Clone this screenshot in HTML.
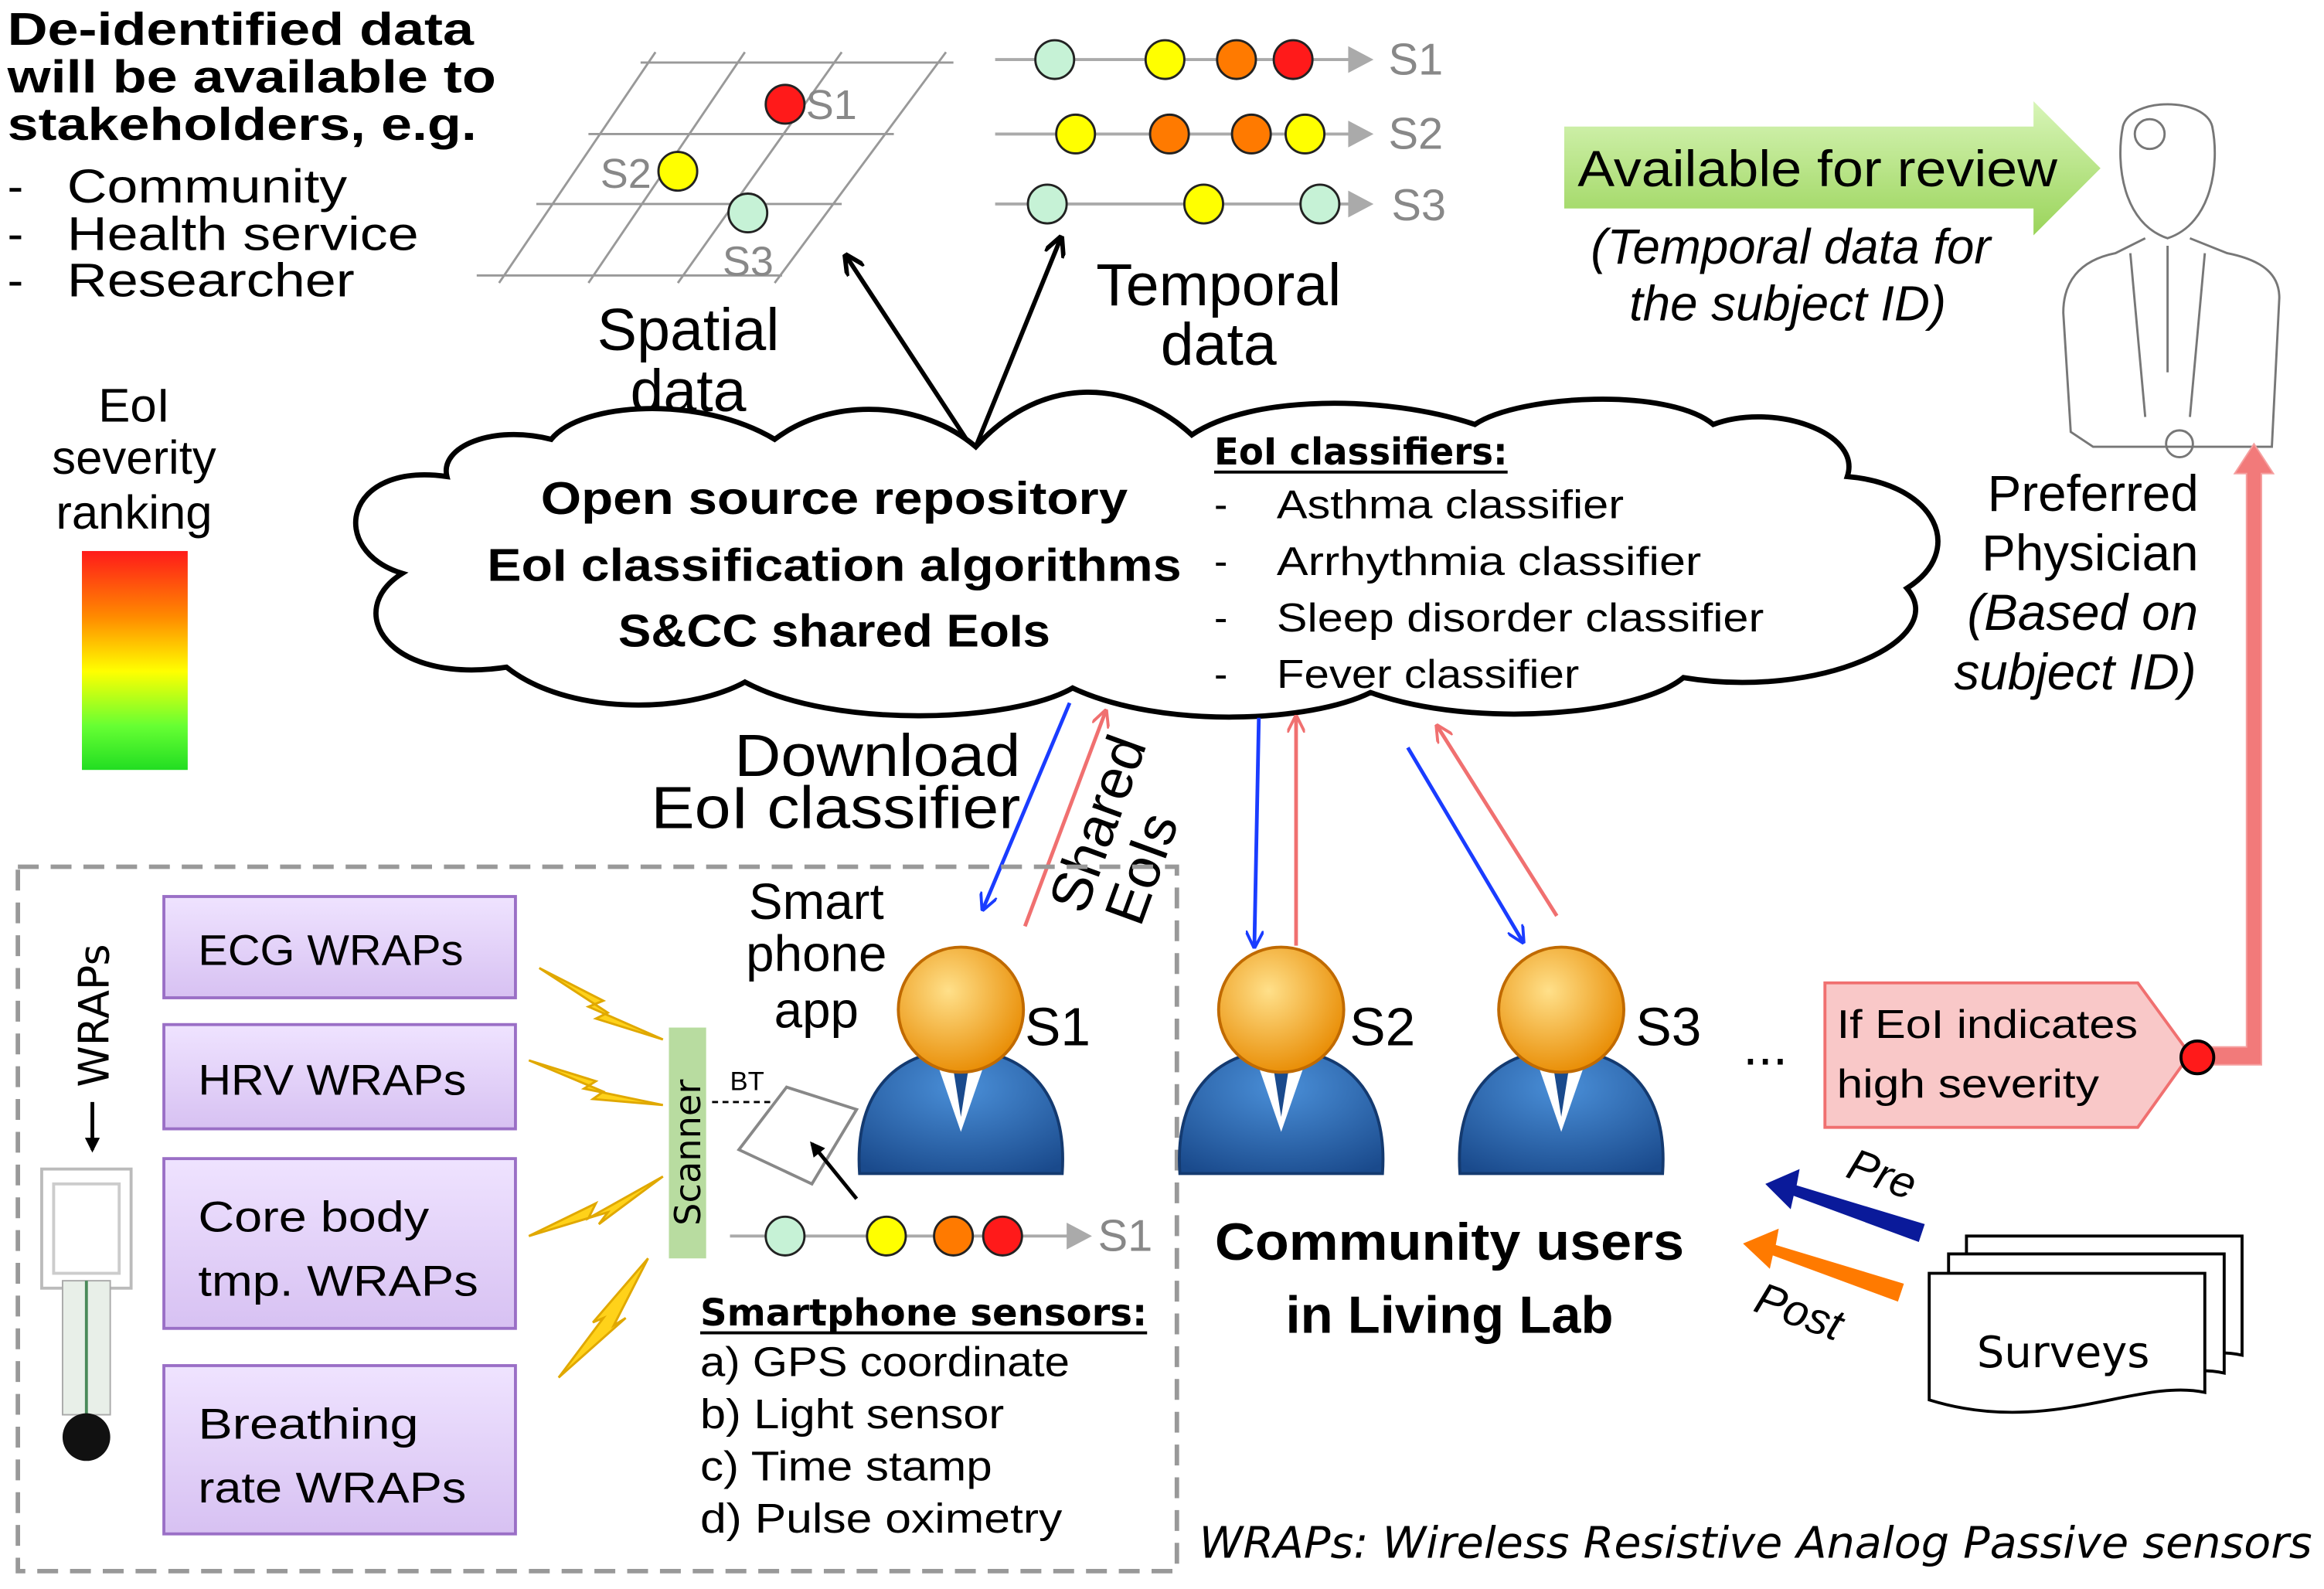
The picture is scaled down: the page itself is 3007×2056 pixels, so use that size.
<!DOCTYPE html>
<html><head><meta charset="utf-8"><style>
html,body{margin:0;padding:0;background:#fff;width:3007px;height:2056px;overflow:hidden}
svg{display:block}
text{font-family:"Liberation Sans",sans-serif}
.c{font-family:"DejaVu Sans","Liberation Sans",sans-serif}
</style></head><body>
<svg width="3007" height="2056" viewBox="0 0 1560 1067" preserveAspectRatio="none" xmlns="http://www.w3.org/2000/svg">
<defs>
<linearGradient id="sev" x1="0" y1="0" x2="0" y2="1">
<stop offset="0" stop-color="#ff1a1a"/><stop offset="0.3" stop-color="#ff8a00"/><stop offset="0.55" stop-color="#ffff00"/><stop offset="0.8" stop-color="#66ff33"/><stop offset="1" stop-color="#22dd22"/></linearGradient>
<linearGradient id="pur" x1="0" y1="0" x2="0" y2="1"><stop offset="0" stop-color="#efe3ff"/><stop offset="1" stop-color="#d7c1f2"/></linearGradient>
<linearGradient id="grn" x1="0" y1="0" x2="0" y2="1"><stop offset="0" stop-color="#d8f5b8"/><stop offset="1" stop-color="#9ad45a"/></linearGradient>
<radialGradient id="head" cx="0.4" cy="0.35" r="0.7"><stop offset="0" stop-color="#ffe08a"/><stop offset="1" stop-color="#e88a00"/></radialGradient>
<radialGradient id="body" cx="0.5" cy="0.3" r="0.8"><stop offset="0" stop-color="#4a8fd8"/><stop offset="1" stop-color="#1a4a8c"/></radialGradient>
<marker id="ab" markerWidth="10" markerHeight="10" refX="8" refY="5" orient="auto" markerUnits="userSpaceOnUse"><path d="M0,0 L10,5 L0,10 Z" fill="#000"/></marker>
<marker id="abl" markerWidth="12" markerHeight="12" refX="10" refY="6" orient="auto" markerUnits="userSpaceOnUse"><path d="M0,0 L12,6 L0,12" fill="none" stroke="#1a3cff" stroke-width="2"/></marker>
<marker id="ar" markerWidth="12" markerHeight="12" refX="10" refY="6" orient="auto" markerUnits="userSpaceOnUse"><path d="M0,0 L12,6 L0,12" fill="none" stroke="#f07070" stroke-width="2"/></marker>
<marker id="ak" markerWidth="14" markerHeight="14" refX="12" refY="7" orient="auto" markerUnits="userSpaceOnUse"><path d="M0,0 L14,7 L0,14" fill="none" stroke="#000" stroke-width="3"/></marker>
<g id="p">
<path d="M-68,788 C-72,730 -40,705 0,705 C40,705 72,730 68,788 Z" fill="url(#body)" stroke="#143a70" stroke-width="2"/>
<path d="M-18,708 L0,760 L18,708 Z" fill="#fff"/>
<path d="M-6,712 L0,750 L6,712 Z" fill="#1a4a8c"/>
<circle cx="0" cy="678" r="42" fill="url(#head)" stroke="#c06a00" stroke-width="2"/>
</g>
</defs>

<!-- top-left text -->
<g font-weight="bold" font-size="31" lengthAdjust="spacingAndGlyphs">
<text x="5" y="30" textLength="313" lengthAdjust="spacingAndGlyphs">De-identified data</text><text x="5" y="62" textLength="328" lengthAdjust="spacingAndGlyphs">will be available to</text><text x="5" y="94" textLength="315" lengthAdjust="spacingAndGlyphs">stakeholders, e.g.</text></g>
<g font-size="32"><text x="5" y="136">-</text><text x="45" y="136" textLength="188" lengthAdjust="spacingAndGlyphs">Community</text><text x="5" y="168">-</text><text x="45" y="168" textLength="236" lengthAdjust="spacingAndGlyphs">Health service</text><text x="5" y="199">-</text><text x="45" y="199" textLength="193" lengthAdjust="spacingAndGlyphs">Researcher</text></g>

<!-- grid -->
<g stroke="#999" stroke-width="1.5" fill="none">
<line x1="430" y1="42" x2="640" y2="42"/><line x1="395" y1="90" x2="600" y2="90"/><line x1="360" y1="137" x2="565" y2="137"/><line x1="320" y1="185" x2="525" y2="185"/>
<line x1="440" y1="35" x2="335" y2="190"/><line x1="500" y1="35" x2="395" y2="190"/><line x1="565" y1="35" x2="455" y2="190"/><line x1="635" y1="35" x2="520" y2="190"/></g>
<g stroke="#222" stroke-width="1.5">
<circle cx="527" cy="70" r="13" fill="#ff1a1a"/><circle cx="455" cy="115" r="13" fill="#ffff00"/><circle cx="502" cy="143" r="13" fill="#c6f2d6"/></g>
<g fill="#888" font-size="28"><text x="541" y="80">S1</text><text x="403" y="126">S2</text><text x="485" y="185">S3</text></g>

<!-- temporal -->
<g stroke="#aaa" stroke-width="2"><line x1="668" y1="40" x2="910" y2="40"/><line x1="668" y1="90" x2="910" y2="90"/><line x1="668" y1="137" x2="910" y2="137"/></g>
<g fill="#aaa"><path d="M905,31 L922,40 L905,49Z"/><path d="M905,81 L922,90 L905,99Z"/><path d="M905,128 L922,137 L905,146Z"/></g>
<g stroke="#222" stroke-width="1.5">
<circle cx="708" cy="40" r="13" fill="#c6f2d6"/><circle cx="782" cy="40" r="13" fill="#ffff00"/><circle cx="830" cy="40" r="13" fill="#ff7a00"/><circle cx="868" cy="40" r="13" fill="#ff1a1a"/>
<circle cx="722" cy="90" r="13" fill="#ffff00"/><circle cx="785" cy="90" r="13" fill="#ff7a00"/><circle cx="840" cy="90" r="13" fill="#ff7a00"/><circle cx="876" cy="90" r="13" fill="#ffff00"/>
<circle cx="703" cy="137" r="13" fill="#c6f2d6"/><circle cx="808" cy="137" r="13" fill="#ffff00"/><circle cx="886" cy="137" r="13" fill="#c6f2d6"/></g>
<g fill="#888" font-size="30"><text x="932" y="50">S1</text><text x="932" y="100">S2</text><text x="934" y="148">S3</text></g>

<line x1="652" y1="300" x2="568" y2="172" stroke="#000" stroke-width="3" marker-end="url(#ak)"/>
<line x1="655" y1="300" x2="712" y2="160" stroke="#000" stroke-width="3" marker-end="url(#ak)"/>
<g font-size="40" text-anchor="middle"><text x="462" y="235">Spatial</text><text x="462" y="276">data</text><text x="818" y="205">Temporal</text><text x="818" y="245">data</text></g>

<!-- cloud -->
<path d="M300,320 C230,310 220,370 270,385 C230,410 260,460 340,448 C380,480 460,480 500,458 C560,490 680,485 720,462 C780,490 880,485 920,465 C990,490 1100,480 1130,455 C1220,470 1310,430 1280,395 C1320,370 1300,325 1240,320 C1250,290 1190,270 1150,285 C1120,260 1020,265 990,285 C930,265 840,265 800,292 C760,255 700,250 655,300 C620,270 560,265 520,295 C470,265 390,270 370,295 C330,285 295,300 300,320 Z" fill="#fff" stroke="#000" stroke-width="3.5"/>
<g class="c" font-weight="bold" font-size="31" text-anchor="middle"><text x="560" y="345" textLength="394" lengthAdjust="spacingAndGlyphs">Open source repository</text><text x="560" y="390" textLength="466" lengthAdjust="spacingAndGlyphs">EoI classification algorithms</text><text x="560" y="434" textLength="290" lengthAdjust="spacingAndGlyphs">S&amp;CC shared EoIs</text></g>
<text class="c" x="815" y="312" font-weight="bold" font-size="25" textLength="197" lengthAdjust="spacingAndGlyphs">EoI classifiers:</text>
<line x1="815" y1="317" x2="1012" y2="317" stroke="#000" stroke-width="2"/>
<g class="c" font-size="27"><text x="815" y="348">-</text><text x="857" y="348" textLength="233" lengthAdjust="spacingAndGlyphs">Asthma classifier</text><text x="815" y="386">-</text><text x="857" y="386" textLength="285" lengthAdjust="spacingAndGlyphs">Arrhythmia classifier</text><text x="815" y="424">-</text><text x="857" y="424" textLength="327" lengthAdjust="spacingAndGlyphs">Sleep disorder classifier</text><text x="815" y="462">-</text><text x="857" y="462" textLength="203" lengthAdjust="spacingAndGlyphs">Fever classifier</text></g>

<!-- severity -->
<g font-size="32" text-anchor="middle"><text x="90" y="283">EoI</text><text x="90" y="318">severity</text><text x="90" y="355">ranking</text></g>
<rect x="55" y="370" width="71" height="147" fill="url(#sev)"/>

<!-- available for review -->
<path d="M1050,85 L1365,85 L1365,68 L1410,113 L1365,158 L1365,140 L1050,140 Z" fill="url(#grn)"/>
<text x="1220" y="125" font-size="34" text-anchor="middle" textLength="322" lengthAdjust="spacingAndGlyphs">Available for review</text>
<g font-size="33" font-style="italic" text-anchor="middle"><text x="1202" y="177">(Temporal data for</text><text x="1200" y="215">the subject ID)</text></g>

<!-- physician -->
<g fill="none" stroke="#777" stroke-width="1.5">
<path d="M1425,85 C1420,110 1425,150 1455,160 C1485,150 1490,110 1485,85 C1480,65 1430,65 1425,85Z"/>
<circle cx="1443" cy="90" r="10"/>
<path d="M1440,160 L1420,170 C1395,175 1385,190 1385,210 L1390,290 L1405,300 L1525,300 L1530,200 C1530,185 1520,175 1495,170 L1470,160"/>
<path d="M1430,170 L1440,280 M1480,170 L1470,280 M1455,165 L1455,250"/>
<circle cx="1463" cy="298" r="9"/>
</g>
<g font-size="34" text-anchor="middle"><text x="1405" y="343">Preferred</text><text x="1403" y="383">Physician</text><text x="1398" y="423" font-style="italic">(Based on</text><text x="1393" y="463" font-style="italic">subject ID)</text></g>

<!-- red return arrow -->
<path d="M1476,703 L1508,703 L1508,318 L1500,318 L1513,298 L1526,318 L1518,318 L1518,715 L1476,715 Z" fill="#f27a7a" stroke="#f5a0a0" stroke-width="1"/>
<path d="M1225,660 L1435,660 L1470,708 L1435,757 L1225,757 Z" fill="#f9c8c8" stroke="#f07070" stroke-width="2"/>
<g class="c" font-size="27"><text x="1233" y="697" textLength="202" lengthAdjust="spacingAndGlyphs">If EoI indicates</text><text x="1233" y="737" textLength="176" lengthAdjust="spacingAndGlyphs">high severity</text></g>
<circle cx="1475" cy="710" r="11" fill="#ff1a1a" stroke="#000" stroke-width="2"/>

<!-- blue/red arrows -->
<g stroke-width="2.5" fill="none">
<line x1="718" y1="472" x2="660" y2="610" stroke="#1a3cff" marker-end="url(#abl)"/>
<line x1="688" y1="622" x2="742" y2="478" stroke="#f07070" marker-end="url(#ar)"/>
<line x1="845" y1="482" x2="842" y2="635" stroke="#1a3cff" marker-end="url(#abl)"/>
<line x1="870" y1="635" x2="870" y2="482" stroke="#f07070" marker-end="url(#ar)"/>
<line x1="945" y1="502" x2="1022" y2="632" stroke="#1a3cff" marker-end="url(#abl)"/>
<line x1="1045" y1="615" x2="965" y2="488" stroke="#f07070" marker-end="url(#ar)"/></g>
<g font-size="40" text-anchor="end"><text x="685" y="521" textLength="192" lengthAdjust="spacingAndGlyphs">Download</text><text x="685" y="556" textLength="248" lengthAdjust="spacingAndGlyphs">EoI classifier</text></g>
<g font-size="38" transform="translate(728,615) rotate(-70)"><text x="0" y="0">Shared</text><text x="5" y="38">EoIs</text></g>

<!-- dashed box -->
<rect x="12" y="582" width="778" height="473" fill="none" stroke="#999" stroke-width="3" stroke-dasharray="14,8"/>

<!-- WRAPs boxes -->
<g fill="url(#pur)" stroke="#9a6fc6" stroke-width="2">
<rect x="110" y="602" width="236" height="68"/><rect x="110" y="688" width="236" height="70"/><rect x="110" y="778" width="236" height="114"/><rect x="110" y="917" width="236" height="113"/></g>
<g class="c" font-size="29"><text x="133" y="648" textLength="178" lengthAdjust="spacingAndGlyphs">ECG WRAPs</text><text x="133" y="735" textLength="180" lengthAdjust="spacingAndGlyphs">HRV WRAPs</text><text x="133" y="827" textLength="155" lengthAdjust="spacingAndGlyphs">Core body</text><text x="133" y="870" textLength="188" lengthAdjust="spacingAndGlyphs">tmp. WRAPs</text><text x="133" y="966" textLength="148" lengthAdjust="spacingAndGlyphs">Breathing</text><text x="133" y="1009" textLength="180" lengthAdjust="spacingAndGlyphs">rate WRAPs</text></g>
<text class="c" font-size="28" transform="translate(73,730) rotate(-90)">WRAPs</text>
<line x1="62" y1="740" x2="62" y2="772" stroke="#000" stroke-width="2.5" marker-end="url(#ab)"/>
<!-- sensor -->
<rect x="28" y="785" width="60" height="80" fill="none" stroke="#bbb" stroke-width="2"/>
<rect x="36" y="795" width="44" height="60" fill="none" stroke="#ccc" stroke-width="2"/>
<rect x="42" y="860" width="32" height="90" fill="#e8efe8" stroke="#aaa"/>
<line x1="58" y1="860" x2="58" y2="950" stroke="#4a8a5a" stroke-width="2"/>
<circle cx="58" cy="965" r="16" fill="#111"/>

<!-- lightning -->
<g fill="#ffd21a" stroke="#e0a800" stroke-width="1.5">
<path d="M362,650 L405,672 L395,676 L445,698 L400,684 L408,680 Z"/>
<path d="M355,712 L400,726 L392,731 L445,742 L398,738 L405,733 Z"/>
<path d="M355,830 L400,808 L395,818 L445,790 L402,822 L408,814 Z"/>
<path d="M375,925 L405,885 L398,888 L435,845 L412,890 L420,885 Z"/></g>
<rect x="449" y="690" width="25" height="155" fill="#b8dca0"/>
<text class="c" font-size="24" transform="translate(470,823) rotate(-90)">Scanner</text>
<line x1="478" y1="740" x2="530" y2="740" stroke="#000" stroke-width="1.5" stroke-dasharray="4,3"/>
<text x="490" y="732" font-size="18">BT</text>
<path d="M496,772 L528,730 L575,745 L545,795 Z" fill="#fff" stroke="#888" stroke-width="2"/>
<line x1="575" y1="805" x2="545" y2="768" stroke="#000" stroke-width="2.5" marker-end="url(#ab)"/>
<g font-size="34" text-anchor="middle"><text x="548" y="617">Smart</text><text x="548" y="652">phone</text><text x="548" y="690">app</text></g>

<!-- people -->
<use href="#p" x="645"/><use href="#p" x="860"/><use href="#p" x="1048"/>
<g font-size="36"><text x="688" y="702">S1</text><text x="906" y="702">S2</text><text x="1098" y="702">S3</text><text x="1170" y="715">...</text></g>

<!-- phone timeline -->
<line x1="490" y1="830" x2="722" y2="830" stroke="#aaa" stroke-width="2"/><path d="M716,821 L733,830 L716,839Z" fill="#aaa"/>
<g stroke="#222" stroke-width="1.5"><circle cx="527" cy="830" r="13" fill="#c6f2d6"/><circle cx="595" cy="830" r="13" fill="#ffff00"/><circle cx="640" cy="830" r="13" fill="#ff7a00"/><circle cx="673" cy="830" r="13" fill="#ff1a1a"/></g>
<text x="737" y="840" font-size="30" fill="#888">S1</text>
<text class="c" x="470" y="890" font-size="25" font-weight="bold" textLength="300" lengthAdjust="spacingAndGlyphs">Smartphone sensors:</text>
<line x1="470" y1="895" x2="770" y2="895" stroke="#000" stroke-width="2"/>
<g class="c" font-size="28"><text x="470" y="924" textLength="248" lengthAdjust="spacingAndGlyphs">a) GPS coordinate</text><text x="470" y="959" textLength="204" lengthAdjust="spacingAndGlyphs">b) Light sensor</text><text x="470" y="994" textLength="196" lengthAdjust="spacingAndGlyphs">c) Time stamp</text><text x="470" y="1029" textLength="243" lengthAdjust="spacingAndGlyphs">d) Pulse oximetry</text></g>
<g class="c" font-size="35" font-weight="bold" text-anchor="middle"><text x="973" y="846" textLength="315" lengthAdjust="spacingAndGlyphs">Community users</text><text x="973" y="895" textLength="220" lengthAdjust="spacingAndGlyphs">in Living Lab</text></g>

<!-- pre/post -->
<path d="M1292,822 L1206,796 L1208,785 L1185,795 L1202,812 L1204,803 L1288,834 Z" fill="#0a1a9a"/>
<path d="M1278,862 L1192,836 L1194,825 L1170,835 L1188,852 L1190,843 L1274,874 Z" fill="#ff7a00"/>
<text font-size="30" font-style="italic" transform="translate(1238,790) rotate(20)">Pre</text>
<text font-size="30" font-style="italic" transform="translate(1176,880) rotate(20)">Post</text>
<g fill="#fff" stroke="#000" stroke-width="2">
<path d="M1320,830 L1505,830 L1505,910 C1460,900 1400,940 1320,915 Z"/>
<path d="M1308,842 L1493,842 L1493,922 C1448,912 1388,952 1308,927 Z"/>
<path d="M1295,855 L1480,855 L1480,935 C1435,925 1375,965 1295,940 Z"/></g>
<text class="c" x="1385" y="918" font-size="29" text-anchor="middle">Surveys</text>

<text class="c" x="805" y="1046" font-size="29" font-style="italic" textLength="747" lengthAdjust="spacingAndGlyphs">WRAPs: Wireless Resistive Analog Passive sensors</text>
</svg>
</body></html>
